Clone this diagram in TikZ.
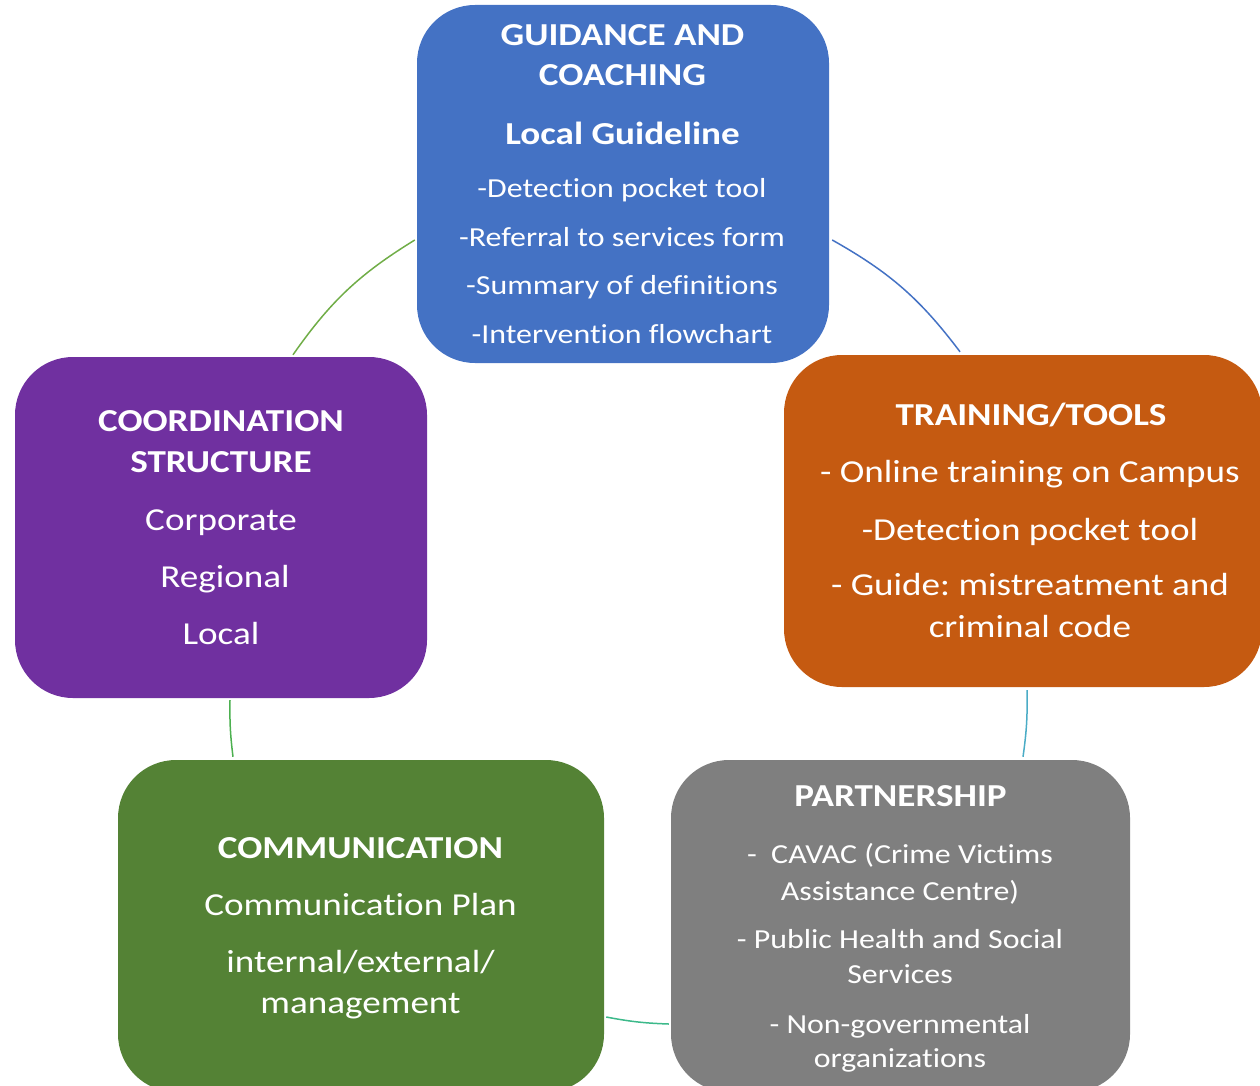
\documentclass[tikz,border=0pt]{standalone}
\usepackage{fontspec}
\setmainfont{Carlito}[FakeStretch=1.16, Ligatures=NoCommon]
\newcommand\fsz[1]{\fontsize{#1}{#1}\selectfont}
\definecolor{cblue}{HTML}{4472C4}
\definecolor{corange}{HTML}{C55A11}
\definecolor{cgray}{HTML}{7F7F7F}
\definecolor{cgreen}{HTML}{548235}
\definecolor{cpurple}{HTML}{7030A0}
\definecolor{lgreen}{HTML}{70AD47}
\definecolor{lteal}{HTML}{4BACC6}
\definecolor{lmint}{HTML}{3CB98A}
\definecolor{lgrass}{HTML}{4CB050}
\begin{document}
\frenchspacing
\begin{tikzpicture}[x=1pt,y=-1pt,
  box/.style={rectangle, rounded corners=58pt, inner sep=0pt, draw=none},
  tl/.style={anchor=base, text=white, inner sep=0pt, font=\fsz{32}\bfseries},
  bd/.style={anchor=base, text=white, inner sep=0pt, font=\fsz{#1}},
  conn/.style={line width=1.5pt}]
\useasboundingbox (0,0) rectangle (1260,1086);
\clip (0,0) rectangle (1260,1086);
% boxes
\node[box, fill=cblue, minimum width=412pt, minimum height=358pt] (blue) at (623,184) {};
\node[box, fill=cpurple, minimum width=412pt, minimum height=341pt] (purple) at (221,527.5) {};
\node[box, fill=corange, minimum width=478pt, minimum height=332pt] (orange) at (1023,521) {};
\node[box, fill=cgreen, minimum width=486pt, minimum height=332pt] (green) at (361,926) {};
\node[box, fill=cgray, minimum width=459pt, minimum height=332pt] (gray) at (900.5,926) {};
% connectors
\draw[conn, lgreen] ([shift={(72,-2)}]purple.north) to[bend left=11.7] ([shift={(-2,56)}]blue.west);
\draw[conn, cblue] ([shift={(3,56)}]blue.east) to[bend left=11.8] ([shift={(-63,-3)}]orange.north);
\draw[conn, lteal] ([shift={(4,3)}]orange.south) to[bend left=4.6] ([shift={(122.5,-3)}]gray.north);
\draw[conn, lmint] ([shift={(-2,98)}]gray.west) to[bend left=4.4] ([shift={(2,91)}]green.east);
\draw[conn, lgrass] ([shift={(-128,-3)}]green.north) to[bend left=4] ([shift={(9,2)}]purple.south);
% blue text
\node[tl] (b1) at (622.5,46) {GUIDANCE AND};
\node[tl] (b2) at (622.5,86) {COACHING};
\node[tl] (b3) at (622.5,145) {Local Guideline};
\node[bd=27.5] (b4) at (622,197) {-Detection pocket tool};
\node[bd=27.5] (b5) at (622,246) {-Referral to services form};
\node[bd=27.5] (b6) at (622,294) {-Summary of definitions};
\node[bd=27.5] (b7) at (622,343) {-Intervention flowchart};
% orange text
\node[tl] (o1) at (1031,425) {TRAINING/TOOLS};
\node[bd=32] (o2) at (1030,482) {- Online training on Campus};
\node[bd=32] (o3) at (1030,540) {-Detection pocket tool};
\node[bd=32] (o4) at (1030,595) {- Guide: mistreatment and};
\node[bd=32] (o5) at (1030,637) {criminal code};
% purple text
\node[tl] (p1) at (221,431) {COORDINATION};
\node[tl] (p2) at (221,472) {STRUCTURE};
\node[bd=32] (p3) at (221,530) {Corporate};
\node[bd=32] (p4) at (225,587) {Regional};
\node[bd=32] (p5) at (221,644) {Local};
% green text
\node[tl] (g1) at (360.5,858) {COMMUNICATION};
\node[bd=32] (g2) at (360.5,915) {Communication Plan};
\node[bd=32] (g3) at (360.5,972) {internal/external/};
\node[bd=32] (g4) at (360.5,1013) {management};
% gray text
\node[tl] (r1) at (900.5,806) {PARTNERSHIP};
\node[bd=27.5] (r2) at (900,863) {-\ \ CAVAC (Crime Victims};
\node[bd=27.5] (r3) at (900,900) {Assistance Centre)};
\node[bd=27.5] (r4) at (900,948) {- Public Health and Social};
\node[bd=27.5] (r5) at (900,983) {Services};
\node[bd=27.5] (r6) at (900,1033) {- Non-governmental};
\node[bd=27.5] (r7) at (900,1067) {organizations};
\end{tikzpicture}
\end{document}
